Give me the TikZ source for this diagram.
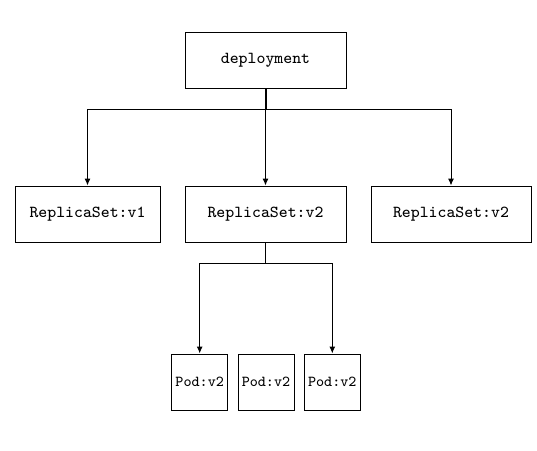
\documentclass[tikz,border=0pt]{standalone}
\usepackage{tikz}
\usetikzlibrary{arrows.meta}

\begin{document}
\begin{tikzpicture}[x=0.5pt, y=-0.5pt,
  box/.style={draw=black, line width=0.5pt, inner sep=0pt, font=\ttfamily\fontsize{8.4}{10}\selectfont},
  podbox/.style={box, minimum width=28pt, minimum height=28pt, font=\ttfamily\fontsize{7.6}{9}\selectfont},
  link/.style={line width=0.5pt},
  arrow/.style={link, -{Latex[length=3.5pt, width=3pt]}}]

% Cornice (stesse proporzioni del riferimento)
\useasboundingbox[fill=white] (0,0) rectangle (537,451);

% Nodo principale
\node[box, minimum width=80.5pt, minimum height=28pt] (dep) at (265.5,60) {deployment};

% ReplicaSet
\node[box, minimum width=72.5pt, minimum height=28pt] (rs1) at (87.5,214) {ReplicaSet:v1};
\node[box, minimum width=80.5pt, minimum height=28pt] (rs2) at (265.5,214) {ReplicaSet:v2};
\node[box, minimum width=80pt, minimum height=28pt] (rs3) at (451,214) {ReplicaSet:v2};

% Pod
\node[podbox] (pod1) at (199.7,382) {Pod:v2};
\node[podbox] (pod2) at (266,382) {Pod:v2};
\node[podbox] (pod3) at (332.3,382) {Pod:v2};

% Punti di diramazione
\coordinate (split) at (265.5,109);
\coordinate (fork) at (265.5,263);

% Collegamenti deployment -> ReplicaSet
\draw[link, line width=1pt] (dep.south) -- (split);
\draw[arrow] (split) -| (rs1.north);
\draw[arrow] (split) -- (rs2.north);
\draw[arrow] (split) -| (rs3.north);

% Collegamenti ReplicaSet -> Pod
\draw[link] (rs2.south) -- (fork);
\draw[arrow] (fork) -| (pod1.north);
\draw[arrow] (fork) -| (pod3.north);
\end{tikzpicture}
\end{document}
